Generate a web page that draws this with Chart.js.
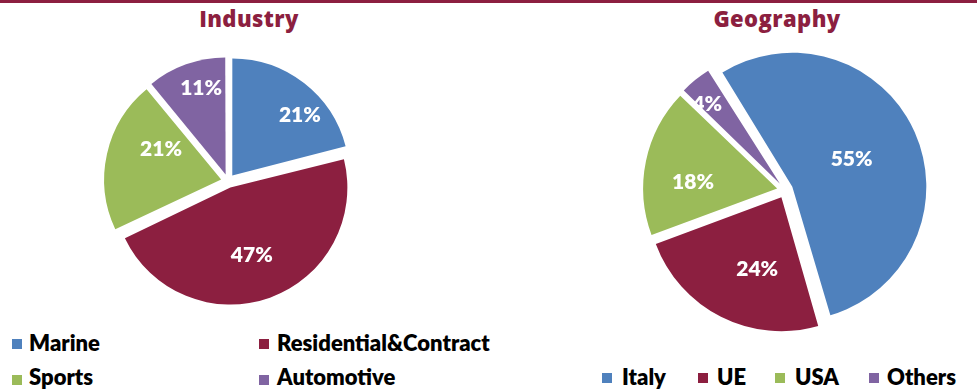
<!DOCTYPE html>
<html>
<head>
<meta charset="utf-8">
<script src="https://cdn.jsdelivr.net/npm/chart.js@4.4.1/dist/chart.umd.min.js"></script>
<style>
  body { margin:0; width:977px; height:389px; background:#fff; position:relative; overflow:hidden; }
  #topLine { position:absolute; left:0; top:0; width:977px; height:3px; background:#8c1f40; }
  .title { position:absolute; top:3px; line-height:30px; font-family:"Open Sans",sans-serif; font-weight:800;
           font-size:22px; letter-spacing:0.4px; color:#8c1f40; transform:translateX(-50%); white-space:nowrap; }
  canvas { position:absolute; }
  .sq { position:absolute; width:10px; height:10px; }
  .lt { position:absolute; font-family:Lato,sans-serif; font-weight:800; font-size:22px; line-height:26px; color:#000; white-space:nowrap; }
</style>
</head>
<body>
<div id="topLine"></div>
<div class="title" style="left:249px">Industry</div>
<div class="title" style="left:777px">Geography</div>
<canvas id="industryChart" width="300" height="280" style="left:78px;top:41px"></canvas>
<canvas id="geoChart" width="320" height="300" style="left:625px;top:40px"></canvas>
<div id="legends"></div>
<script>
// data
const industryLabels = ['Marine', 'Residential&Contract', 'Sports', 'Automotive'];
const industryValues = [21, 47, 21, 11];
const geoLabels = ['Italy', 'UE', 'USA', 'Others'];
const geoValues = [55, 24, 18, 4];
const sliceColors = ['#4f81bd', '#8c1f40', '#9bbb59', '#8064a2'];

// legend placement: [square x, square y, text x, text top]
const industryLegendPos = [[12, 339, 29, 330], [259, 339, 277, 330], [12, 375, 29, 364], [259, 375, 277, 364]];
const geoLegendPos = [[602, 373, 622, 364], [698, 373, 717, 364], [775, 373, 795, 364], [869, 373, 887, 364]];

function buildLegend(labels, pos) {
  const box = document.getElementById('legends');
  labels.forEach((l, i) => {
    const sq = document.createElement('div');
    sq.className = 'sq';
    sq.style.left = pos[i][0] + 'px';
    sq.style.top = pos[i][1] + 'px';
    sq.style.background = sliceColors[i];
    box.appendChild(sq);
    const t = document.createElement('div');
    t.className = 'lt';
    t.style.left = pos[i][2] + 'px';
    t.style.top = pos[i][3] + 'px';
    t.textContent = l;
    box.appendChild(t);
  });
}
buildLegend(industryLabels, industryLegendPos);
buildLegend(geoLabels, geoLegendPos);

// Chart.js grows the radius of offset slices a bit; undo that so all slices share one radius
const evenRadius = {
  id: 'evenRadius',
  beforeDatasetsDraw(chart) {
    chart.getDatasetMeta(0).data.forEach(arc => {
      const off = (arc.options.offset || 0) / 4;
      const fix = 1 - Math.sin(Math.min(Math.PI, arc.circumference || 0));
      if (arc.$baseRadius === undefined) arc.$baseRadius = arc.outerRadius;
      arc.outerRadius = arc.$baseRadius - off * fix;
    });
  }
};

// draws the % value inside each slice
const sliceLabels = {
  id: 'sliceLabels',
  afterDatasetsDraw(chart, args, opts) {
    const ctx = chart.ctx;
    const meta = chart.getDatasetMeta(0);
    const values = chart.data.datasets[0].data;
    ctx.save();
    ctx.font = '800 21px Lato, sans-serif';
    ctx.fillStyle = '#fff';
    ctx.textAlign = 'center';
    ctx.textBaseline = 'middle';
    meta.data.forEach((arc, i) => {
      const off = (arc.options.offset || 0) / 4;
      const mid = (arc.startAngle + arc.endAngle) / 2;
      const cx = arc.x + Math.cos(mid) * off;
      const cy = arc.y + Math.sin(mid) * off;
      const a = mid + opts.shift[i] * Math.PI / 180;
      const r = arc.$baseRadius * opts.radius[i];
      ctx.fillText(values[i] + '%', cx + Math.cos(a) * r, cy + Math.sin(a) * r + 1);
    });
    ctx.restore();
  }
};

function makePie(id, labels, values, rotation, radius, offset, labelRadius, labelShift) {
  return new Chart(document.getElementById(id), {
    type: 'pie',
    data: {
      labels: labels,
      datasets: [{
        data: values,
        backgroundColor: sliceColors,
        borderWidth: 0,
        offset: offset
      }]
    },
    options: {
      responsive: false,
      animation: false,
      events: [],
      rotation: rotation,
      radius: radius,
      layout: { padding: 0 },
      plugins: {
        legend: { display: false },
        tooltip: { enabled: false },
        sliceLabels: { radius: labelRadius, shift: labelShift }
      }
    },
    plugins: [evenRadius, sliceLabels]
  });
}

makePie('industryChart', industryLabels, industryValues, 0, 117, 28,
  [0.78, 0.6, 0.58, 0.77], [10, 2, 15, 4]);
makePie('geoChart', geoLabels, geoValues, -32, 134, 32,
  [0.49, 0.56, 0.63, 0.81], [-1.5, -8, -7, -3]);
</script>
</body>
</html>
